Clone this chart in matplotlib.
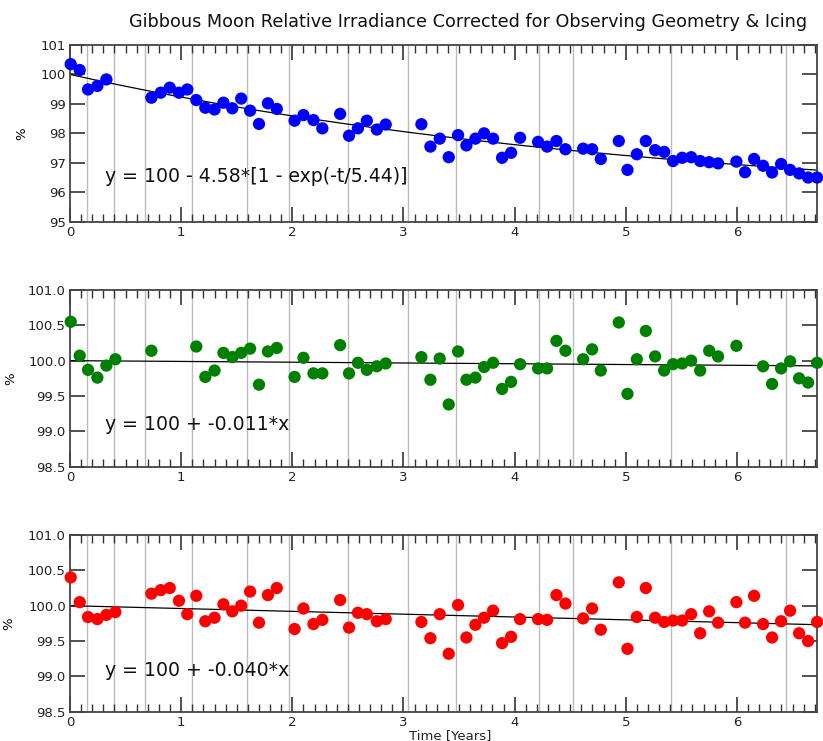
import numpy as np
import matplotlib.pyplot as plt

# observation times (years) and relative irradiance (%) per panel
T_BLUE = [0.006, 0.087, 0.162, 0.246, 0.327, 0.732, 0.816, 0.897, 0.98, 1.055,
          1.136, 1.217, 1.30, 1.38, 1.46, 1.54, 1.62, 1.70, 1.78, 1.86,
          2.02, 2.10, 2.19, 2.27, 2.43, 2.51, 2.59, 2.67, 2.76, 2.84,
          3.161, 3.242, 3.326, 3.407, 3.491, 3.566, 3.647, 3.725, 3.806, 3.887,
          3.968, 4.049, 4.211, 4.292, 4.376, 4.457, 4.616, 4.697, 4.775, 4.937,
          5.015, 5.099, 5.180, 5.264, 5.345, 5.425, 5.507, 5.588, 5.669, 5.750,
          5.830, 5.995, 6.073, 6.154, 6.235, 6.316, 6.397, 6.478, 6.559, 6.640, 6.721]
Y_BLUE = [100.35, 100.15, 99.49, 99.61, 99.83, 99.21, 99.38, 99.55, 99.38, 99.49,
          99.13, 98.87, 98.81, 99.04, 98.85, 99.18, 98.77, 98.32, 99.02, 98.83,
          98.43, 98.62, 98.45, 98.17, 98.66, 97.92, 98.17, 98.43, 98.13, 98.30,
          98.31, 97.55, 97.82, 97.19, 97.94, 97.59, 97.82, 98.00, 97.82, 97.17,
          97.34, 97.85, 97.71, 97.55, 97.74, 97.46, 97.48, 97.46, 97.13, 97.74,
          96.76, 97.29, 97.74, 97.43, 97.37, 97.06, 97.17, 97.19, 97.06, 97.02,
          96.98, 97.04, 96.68, 97.13, 96.90, 96.67, 96.96, 96.76, 96.64, 96.50, 96.50]

T_GREEN = [0.006, 0.087, 0.162, 0.246, 0.327, 0.408, 0.732,
           1.136, 1.217, 1.30, 1.38, 1.46, 1.54, 1.62, 1.70, 1.78, 1.86,
           2.02, 2.10, 2.19, 2.27, 2.43, 2.51, 2.59, 2.67, 2.76, 2.84,
           3.161, 3.242, 3.326, 3.407, 3.491, 3.566, 3.647, 3.725, 3.806, 3.887,
           3.968, 4.049, 4.211, 4.292, 4.376, 4.457, 4.616, 4.697, 4.775, 4.937,
           5.015, 5.099, 5.180, 5.264, 5.345, 5.425, 5.507, 5.588, 5.669, 5.750,
           5.830, 5.995, 6.235, 6.316, 6.397, 6.478, 6.559, 6.640, 6.721]
Y_GREEN = [100.55, 100.07, 99.87, 99.76, 99.93, 100.02, 100.14,
           100.20, 99.77, 99.86, 100.11, 100.05, 100.11, 100.17, 99.66, 100.13, 100.18,
           99.77, 100.04, 99.82, 99.82, 100.22, 99.82, 99.97, 99.87, 99.92, 99.96,
           100.05, 99.73, 100.03, 99.38, 100.13, 99.73, 99.76, 99.91, 99.97, 99.60,
           99.70, 99.95, 99.89, 99.89, 100.28, 100.14, 100.02, 100.16, 99.86, 100.54,
           99.53, 100.02, 100.42, 100.06, 99.86, 99.95, 99.96, 100.00, 99.86, 100.14,
           100.06, 100.21, 99.92, 99.67, 99.89, 99.99, 99.75, 99.69, 99.97]

T_RED = [0.006, 0.087, 0.162, 0.246, 0.327, 0.408, 0.732, 0.816, 0.897, 0.98, 1.055,
         1.136, 1.217, 1.30, 1.38, 1.46, 1.54, 1.62, 1.70, 1.78, 1.86,
         2.02, 2.10, 2.19, 2.27, 2.43, 2.51, 2.59, 2.67, 2.76, 2.84,
         3.161, 3.242, 3.326, 3.407, 3.491, 3.566, 3.647, 3.725, 3.806, 3.887,
         3.968, 4.049, 4.211, 4.292, 4.376, 4.457, 4.616, 4.697, 4.775, 4.937,
         5.015, 5.099, 5.180, 5.264, 5.345, 5.425, 5.507, 5.588, 5.669, 5.750,
         5.830, 5.995, 6.073, 6.154, 6.235, 6.316, 6.397, 6.478, 6.559, 6.640, 6.721]
Y_RED = [100.40, 100.05, 99.84, 99.81, 99.87, 99.91, 100.17, 100.22, 100.25, 100.07, 99.88,
         100.14, 99.78, 99.83, 100.02, 99.92, 100.00, 100.20, 99.76, 100.15, 100.25,
         99.67, 99.96, 99.74, 99.80, 100.08, 99.69, 99.90, 99.88, 99.78, 99.81,
         99.77, 99.54, 99.88, 99.32, 100.01, 99.55, 99.73, 99.83, 99.93, 99.47,
         99.56, 99.81, 99.81, 99.80, 100.15, 100.03, 99.82, 99.96, 99.66, 100.33,
         99.39, 99.84, 100.25, 99.83, 99.77, 99.79, 99.79, 99.88, 99.61, 99.92,
         99.76, 100.05, 99.76, 100.14, 99.74, 99.55, 99.78, 99.93, 99.61, 99.50, 99.77]

# event markers (years)
EVENTS = [0.150, 0.399, 0.675, 1.100, 1.595, 1.968, 2.498, 3.044,
          3.473, 4.217, 4.528, 5.410, 6.442]

# fit parameters shown in the panels
EXP_AMP, EXP_TAU = 4.58, 5.44
SLOPE_GREEN = -0.011
SLOPE_RED = -0.040

XMAX = 6.72
TICK_COLOR = '#333333'

fig = plt.figure(figsize=(8.23, 7.41), dpi=100)

left, width, height = 0.0851, 0.9076, 0.2385
bottoms = [0.7008, 0.3702, 0.0395]

tt = np.linspace(0, XMAX, 300)
panels = [
    (T_BLUE, Y_BLUE, 'blue', 100 - EXP_AMP * (1 - np.exp(-tt / EXP_TAU)),
     (95, 101), np.arange(95, 102, 1), '{:.0f}',
     'y = 100 - %.2f*[1 - exp(-t/%.2f)]' % (EXP_AMP, EXP_TAU), 0.255, -0.056),
    (T_GREEN, Y_GREEN, 'green', 100 + SLOPE_GREEN * tt,
     (98.5, 101), np.arange(98.5, 101.01, 0.5), '{:.1f}',
     'y = 100 + %.3f*x' % SLOPE_GREEN, 0.236, -0.071),
    (T_RED, Y_RED, 'red', 100 + SLOPE_RED * tt,
     (98.5, 101), np.arange(98.5, 101.01, 0.5), '{:.1f}',
     'y = 100 + %.3f*x' % SLOPE_RED, 0.236, -0.073),
]

for bottom, (t, y, color, fit, ylim, yticks, fmt, eq, eq_y, lab_x) in zip(bottoms, panels):
    ax = fig.add_axes([left, bottom, width, height])
    for ev in EVENTS:
        ax.axvline(ev, color='#bbbbbb', linewidth=1.0, zorder=1)
    ax.plot(tt, fit, color='black', linewidth=0.9, zorder=2)
    ax.scatter(t, y, s=78, color=color, edgecolors='none', zorder=3, clip_on=False)
    ax.set_xlim(0, XMAX)
    ax.set_ylim(*ylim)
    ax.set_yticks(yticks)
    ax.set_yticklabels([fmt.format(v) for v in yticks])
    ax.set_xticks(range(0, 7))
    ax.set_xticks(np.arange(0, XMAX, 0.1), minor=True)
    ax.tick_params(axis='both', which='major', direction='in', length=11, width=1.2,
                   top=True, right=True, labelsize=9.5, colors=TICK_COLOR,
                   labelcolor='#222222', pad=3)
    ax.tick_params(axis='x', which='minor', direction='in', length=5.5, width=1.0,
                   top=True, colors=TICK_COLOR)
    for sp in ax.spines.values():
        sp.set_color('#444444')
        sp.set_linewidth(1.3)
    ax.set_ylabel('%', fontsize=9.5)
    ax.yaxis.set_label_coords(lab_x, 0.5)
    ax.text(0.047, eq_y, eq, transform=ax.transAxes, fontsize=13.6,
            va='center', ha='left', color='#111111')

fig.text(0.569, 0.970, 'Gibbous Moon Relative Irradiance Corrected for Observing Geometry & Icing',
         ha='center', va='center', fontsize=12.7, color='#111111')
fig.text(0.547, 0.008, 'Time [Years]', ha='center', va='center', fontsize=9.5, color='#222222')

fig.savefig('out.png', dpi=100)
